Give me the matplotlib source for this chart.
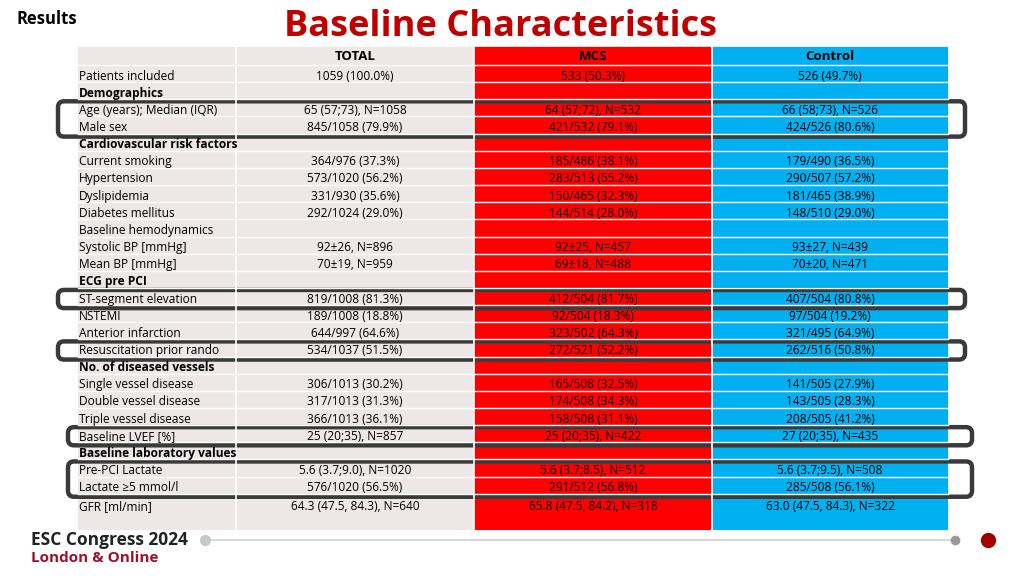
import matplotlib
matplotlib.use("Agg")
import matplotlib.pyplot as plt
from matplotlib.patches import Rectangle, FancyBboxPatch

plt.rcParams["font.family"] = "Open Sans"

# table content
labels = ["Patients included", "Demographics", "Age (years); Median (IQR)", "Male sex",
          "Cardiovascular risk factors", "Current smoking", "Hypertension", "Dyslipidemia",
          "Diabetes mellitus", "Baseline hemodynamics", "Systolic BP [mmHg]", "Mean BP [mmHg]",
          "ECG pre PCI", "ST-segment elevation", "NSTEMI", "Anterior infarction",
          "Resuscitation prior rando", "No. of diseased vessels", "Single vessel disease",
          "Double vessel disease", "Triple vessel disease", "Baseline LVEF [%]",
          "Baseline laboratory values", "Pre-PCI Lactate", "Lactate \u22655 mmol/l", "GFR [ml/min]"]
bold_rows = ["Demographics", "Cardiovascular risk factors", "ECG pre PCI",
             "No. of diseased vessels", "Baseline laboratory values"]
total = ["1059 (100.0%)", "", "65 (57;73), N=1058", "845/1058 (79.9%)", "",
         "364/976 (37.3%)", "573/1020 (56.2%)", "331/930 (35.6%)", "292/1024 (29.0%)", "",
         "92\u00b126, N=896", "70\u00b119, N=959", "", "819/1008 (81.3%)", "189/1008 (18.8%)",
         "644/997 (64.6%)", "534/1037 (51.5%)", "", "306/1013 (30.2%)", "317/1013 (31.3%)",
         "366/1013 (36.1%)", "25 (20;35), N=857", "", "5.6 (3.7;9.0), N=1020",
         "576/1020 (56.5%)", "64.3 (47.5, 84.3), N=640"]
mcs = ["533 (50.3%)", "", "64 (57;72), N=532", "421/532 (79.1%)", "",
       "185/486 (38.1%)", "283/513 (55.2%)", "150/465 (32.3%)", "144/514 (28.0%)", "",
       "92\u00b125, N=457", "69\u00b118, N=488", "", "412/504 (81.7%)", "92/504 (18.3%)",
       "323/502 (64.3%)", "272/521 (52.2%)", "", "165/508 (32.5%)", "174/508 (34.3%)",
       "158/508 (31.1%)", "25 (20;35), N=422", "", "5.6 (3.7;8.5), N=512",
       "291/512 (56.8%)", "65.8 (47.5, 84.2), N=318"]
control = ["526 (49.7%)", "", "66 (58;73), N=526", "424/526 (80.6%)", "",
           "179/490 (36.5%)", "290/507 (57.2%)", "181/465 (38.9%)", "148/510 (29.0%)", "",
           "93\u00b127, N=439", "70\u00b120, N=471", "", "407/504 (80.8%)", "97/504 (19.2%)",
           "321/495 (64.9%)", "262/516 (50.8%)", "", "141/505 (27.9%)", "143/505 (28.3%)",
           "208/505 (41.2%)", "27 (20;35), N=435", "", "5.6 (3.7;9.5), N=508",
           "285/508 (56.1%)", "63.0 (47.5, 84.3), N=322"]
headers = ["TOTAL", "MCS", "Control"]
highlight = [("Age (years); Median (IQR)", "Male sex", 58, 965),
             ("ST-segment elevation", "ST-segment elevation", 58, 965),
             ("Resuscitation prior rando", "Resuscitation prior rando", 58, 965),
             ("Baseline LVEF [%]", "Baseline LVEF [%]", 68, 972),
             ("Pre-PCI Lactate", "Lactate \u22655 mmol/l", 68, 972)]

fig = plt.figure(figsize=(10.24, 5.76), dpi=100)
ax = fig.add_axes([0, 0, 1, 1])
ax.set_xlim(0, 1024)
ax.set_ylim(576, 0)
ax.axis("off")

col_x = [78, 236, 474, 712, 948]
col_bg = ["#ede7e7", "#ede7e7", "#ff0000", "#00b0f0"]
top, head_h, row_h, bottom = 46, 19, 17.15, 530

for i in range(4):
    ax.add_patch(Rectangle((col_x[i], top), col_x[i + 1] - col_x[i], bottom - top,
                           fc=col_bg[i], ec="none"))
# white separators
for i in range(1, 4):
    ax.plot([col_x[i], col_x[i]], [top, bottom], color="white", lw=1.2)
ys = [top + head_h + row_h * k for k in range(len(labels) + 1)]
for y in ys[:-1]:
    ax.plot([col_x[0], col_x[4]], [y, y], color="white", lw=1.0)
ax.plot([col_x[0], col_x[4]], [top, top], color="white", lw=1.2)

fs = 8.6
off = 2.5
for j, h in enumerate(headers):
    ax.text((col_x[j + 1] + col_x[j + 2]) / 2, top + head_h / 2 + 1.5, h, ha="center",
            va="center", fontsize=9.5, fontweight="bold", color="black")
for k, lab in enumerate(labels):
    yc = ys[k] + row_h / 2 + off
    if k == len(labels) - 1:
        yc += 2
    ax.text(col_x[0] + 1, yc, lab, ha="left", va="center", fontsize=fs,
            fontweight="bold" if lab in bold_rows else "normal", color="black")
    for j, vals in enumerate([total, mcs, control]):
        ax.text((col_x[j + 1] + col_x[j + 2]) / 2, yc, vals[k], ha="center", va="center",
                fontsize=fs, color="black")

for a, b, x0, x1 in highlight:
    y0 = ys[labels.index(a)] + 2
    y1 = ys[labels.index(b) + 1] + 3
    ax.add_patch(FancyBboxPatch((x0, y0), x1 - x0, y1 - y0,
                                boxstyle="round,pad=0,rounding_size=6",
                                fc="none", ec="#3a3a3a", lw=3.2))

ax.text(16, 19, "Results", ha="left", va="center", fontsize=12, fontweight="bold")
ax.text(500, 27, "Baseline Characteristics", ha="center", va="center", fontsize=26,
        fontweight="bold", color="#c00000")

# footer
ax.plot([205, 955], [540, 540], color="#d9d9d9", lw=1.5)
ax.plot([205], [540], "o", color="#c8c8c8", ms=7)
ax.plot([955], [540], "o", color="#9a9a9a", ms=6)
ax.plot([988], [540], "o", color="#a00000", ms=10)
ax.text(31, 540, "ESC Congress 2024", ha="left", va="center", fontsize=12.5,
        fontweight="bold", color="#222222")
ax.text(31, 558, "London & Online", ha="left", va="center", fontsize=11,
        fontweight="bold", color="#a0102a")

fig.savefig("out.png", dpi=100, facecolor="white")
